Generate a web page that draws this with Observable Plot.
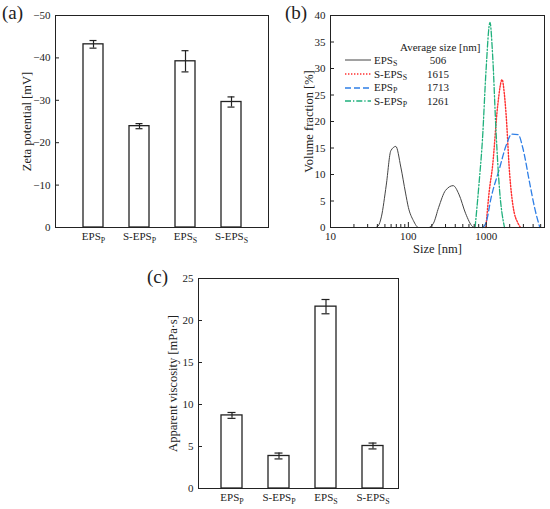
<!DOCTYPE html>
<html><head><meta charset="utf-8">
<script src="https://cdn.jsdelivr.net/npm/d3@7"></script>
<script src="https://cdn.jsdelivr.net/npm/@observablehq/plot@0.6"></script>
<style>
body{margin:0;background:#fff;}
#fig{position:relative;width:550px;height:509px;font-family:"Liberation Serif","Times New Roman",serif;color:#222;overflow:hidden;}
#fig .panel{position:absolute;}
#fig svg text{font-family:"Liberation Serif","Times New Roman",serif !important;}
.plab{position:absolute;font-size:19px;line-height:1;}
.leg{position:absolute;font-size:11px;line-height:1;white-space:nowrap;}
.leg sub{font-size:0.72em;vertical-align:-0.3em;line-height:0;}
</style></head><body><div id="fig"></div>
<script>
// ---------- data ----------
const categories = ["EPS_P", "S-EPS_P", "EPS_S", "S-EPS_S"];
const zetaMagnitude = [43.2, 23.9, 39.2, 29.6];
const zetaError = [0.9, 0.6, 2.5, 1.2];
const viscosity = [8.7, 3.87, 21.65, 5.06];
const viscosityError = [0.35, 0.35, 0.85, 0.35];
const zetaTicks = [0, 10, 20, 30, 40, 50];
const viscosityTicks = [0, 5, 10, 15, 20, 25];
const fractionTicks = [0, 5, 10, 15, 20, 25, 30, 35, 40];
const sizeMajorTicks = [10, 100, 1000];
const sizeMinorTicks = [20, 30, 40, 50, 60, 70, 80, 90, 200, 300, 400, 500, 600, 700, 800, 900, 2000, 3000, 4000, 5000];

const seriesNames = ["EPS_S", "S-EPS_S", "EPS_P", "S-EPS_P"];
const averageSizes = [506, 1615, 1713, 1261];
const epsSSize  = [38, 41, 45, 52, 59.6, 69, 80, 92, 100, 116, 135, 165, 182, 210, 245, 300, 376, 445, 545, 664, 700];
const epsSValue = [0, 0.3, 2, 8, 14.5, 15.3, 11.4, 6.5, 3.8, 1.3, 0, 0, 0, 0.8, 3.8, 7, 7.9, 6.3, 2.6, 0.2, 0];
const sEpsSSize  = [991, 1090, 1208, 1403, 1600, 1700, 1803, 1991, 2200, 2580, 2767];
const sEpsSValue = [0, 6.7, 11.7, 23, 27.9, 25.5, 21.1, 10.4, 4.2, 0.7, 0];
const epsPSize  = [900, 1000, 1150, 1477, 1803, 2120, 2580, 2960, 3600, 4200, 4875];
const epsPValue = [0, 1, 5.5, 11.1, 15.5, 17.6, 17.5, 14.9, 8.5, 3.6, 0];
const sEpsPSize  = [719, 805, 895, 991, 1117, 1208, 1337, 1477, 1716];
const sEpsPValue = [0, 8, 16.7, 29.3, 38.7, 32.5, 18, 7.4, 0];

const axisTitles = ["Zeta potential [mV]", "Apparent viscosity [mPa\u00b7s]", "Volume fraction [%]", "Size [nm]"];

// ---------- styles ----------
const ink = "#222";
const seriesStyle = {
  "EPS_S":   {stroke: "#444", strokeWidth: 1, strokeDasharray: null},
  "S-EPS_S": {stroke: "#ff3030", strokeWidth: 1.4, strokeDasharray: "1.4,1.6"},
  "EPS_P":   {stroke: "#2f7fe6", strokeWidth: 1.3, strokeDasharray: "6,3"},
  "S-EPS_P": {stroke: "#1fb07c", strokeWidth: 1.3, strokeDasharray: "6,2,1.3,2"}
};
const seriesData = {
  "EPS_S": [epsSSize, epsSValue],
  "S-EPS_S": [sEpsSSize, sEpsSValue],
  "EPS_P": [epsPSize, epsPValue],
  "S-EPS_P": [sEpsPSize, sEpsPValue]
};
const fontFamily = '"Liberation Serif","Times New Roman",serif';
const baseStyle = {fontFamily, fontSize: "11px", color: ink, background: "transparent", overflow: "visible"};
const titleSize = 12.5;

const fig = document.getElementById("fig");

function subscriptify(svg) {
  d3.select(svg).selectAll("text").each(function () {
    const el = this.querySelector("tspan") || this;
    const t = el.textContent;
    if (!t.includes("_")) return;
    const [base, sub] = t.split("_");
    el.textContent = base;
    const ts = document.createElementNS("http://www.w3.org/2000/svg", "tspan");
    ts.setAttribute("font-size", "0.72em");
    ts.setAttribute("dy", "0.3em");
    ts.textContent = sub;
    el.appendChild(ts);
  });
}

function place(node, left, top) {
  node.classList.add("panel");
  node.style.left = left + "px";
  node.style.top = top + "px";
  fig.appendChild(node);
  subscriptify(node);
}

function yAxes(ticks, fmt, title, titleDx) {
  return [
    Plot.axisY({ticks, tickSize: 4, dx: 4, tickFormat: () => "", label: null, stroke: ink}),
    Plot.axisY({ticks, tickSize: 0, tickPadding: 5, tickFormat: fmt, label: null, fontSize: 11}),
    Plot.text([title], {text: d => d, frameAnchor: "left", textAnchor: "middle", lineAnchor: "middle", rotate: -90, dx: -titleDx, fontSize: titleSize, fill: ink})
  ];
}

function barPanel({values, errors, ticks, fmt, title, titleDx, width, height, margins, xscale, max}) {
  const rows = categories.map((c, i) => ({c, v: values[i], e: errors[i]}));
  return Plot.plot({
    width, height, ...margins,
    style: baseStyle,
    x: {domain: categories, ...xscale},
    y: {domain: [0, max]},
    marks: [
      Plot.barY(rows, {x: "c", y: "v", fill: "white", stroke: ink, strokeWidth: 1.3}),
      Plot.ruleX(rows, {x: "c", y1: d => d.v - d.e, y2: d => d.v + d.e, stroke: ink, strokeWidth: 1.2}),
      Plot.tickY(rows, {x: "c", y: d => d.v + d.e, insetLeft: 6.5, insetRight: 6.5, stroke: ink, strokeWidth: 1.2}),
      Plot.tickY(rows, {x: "c", y: d => d.v - d.e, insetLeft: 6.5, insetRight: 6.5, stroke: ink, strokeWidth: 1.2}),
      Plot.axisX({tickSize: 0, tickPadding: 5, label: null, fontSize: 11}),
      ...yAxes(ticks, fmt, title, titleDx),
      Plot.frame({stroke: ink, strokeWidth: 1})
    ]
  });
}

// (a) zeta potential
const pa = barPanel({
  values: zetaMagnitude, errors: zetaError, ticks: zetaTicks, max: 50,
  fmt: d => d === 0 ? "0" : "\u2212" + d,
  title: axisTitles[0], titleDx: 29,
  width: 275, height: 255,
  margins: {marginLeft: 55, marginRight: 7, marginTop: 15, marginBottom: 28},
  xscale: {paddingInner: 0.57, paddingOuter: 0.57}
});
place(pa, 0, 0);

// (c) apparent viscosity
const pc = barPanel({
  values: viscosity, errors: viscosityError, ticks: viscosityTicks, max: 25,
  fmt: d => String(d),
  title: axisTitles[1], titleDx: 26,
  width: 300, height: 254,
  margins: {marginLeft: 68, marginRight: 32, marginTop: 23, marginBottom: 21},
  xscale: {paddingInner: 0.56, paddingOuter: 0.405, align: 0.59}
});
place(pc, 130, 255);

// (b) size distribution
const lineRows = seriesNames.flatMap(name => {
  const [s, v] = seriesData[name];
  return s.map((size, i) => ({series: name, size, value: v[i]}));
});
const pb = Plot.plot({
  width: 275, height: 255,
  marginLeft: 55, marginRight: 6, marginTop: 15, marginBottom: 28,
  style: baseStyle,
  x: {type: "log", domain: [10, 5600]},
  y: {domain: [0, 40]},
  marks: [
    ...seriesNames.map(name => Plot.line(lineRows.filter(d => d.series === name), {
      x: "size", y: "value", curve: "monotone-x", ...seriesStyle[name]
    })),
    Plot.axisX({ticks: sizeMinorTicks, tickSize: 3, dy: -3, tickFormat: () => "", label: null, stroke: ink}),
    Plot.axisX({ticks: sizeMajorTicks, tickSize: 5, dy: -5, tickFormat: () => "", label: null, stroke: ink}),
    Plot.axisX({ticks: sizeMajorTicks, tickSize: 0, tickPadding: 5, tickFormat: d => String(d), label: null, fontSize: 11}),
    Plot.text([axisTitles[3]], {text: d => d, frameAnchor: "bottom", textAnchor: "middle", lineAnchor: "middle", dy: 21, fontSize: titleSize, fill: ink}),
    ...yAxes(fractionTicks, d => String(d), axisTitles[2], 22),
    Plot.frame({stroke: ink, strokeWidth: 1})
  ]
});
place(pb, 275, 0);

// panel labels
[["(a)", 2, 3], ["(b)", 285, 3], ["(c)", 147, 267]].forEach(([t, x, y]) => {
  const d = document.createElement("div");
  d.className = "plab"; d.textContent = t;
  d.style.left = x + "px"; d.style.top = y + "px";
  fig.appendChild(d);
});

// legend for (b)
function sub(name) {
  const [b, s] = name.split("_");
  return b + "<sub>" + s + "</sub>";
}
const head = document.createElement("div");
head.className = "leg"; head.textContent = "Average size [nm]";
head.style.left = "400px"; head.style.top = "42px";
fig.appendChild(head);
const rowTops = [54.5, 68.5, 82, 95.5];
seriesNames.forEach((name, i) => {
  const st = seriesStyle[name];
  const sw = d3.create("svg").attr("width", 26).attr("height", 6)
    .style("position", "absolute").style("left", "345px").style("top", (rowTops[i] + 2.5) + "px");
  sw.append("line").attr("x1", 0).attr("x2", 26).attr("y1", 3).attr("y2", 3)
    .attr("stroke", st.stroke).attr("stroke-width", st.strokeWidth)
    .attr("stroke-dasharray", st.strokeDasharray);
  fig.appendChild(sw.node());
  const lab = document.createElement("div");
  lab.className = "leg"; lab.innerHTML = sub(name);
  lab.style.left = "374px"; lab.style.top = rowTops[i] + "px";
  fig.appendChild(lab);
  const num = document.createElement("div");
  num.className = "leg"; num.textContent = averageSizes[i];
  num.style.left = "418px"; num.style.width = "40px"; num.style.textAlign = "center";
  num.style.top = rowTops[i] + "px";
  fig.appendChild(num);
});
</script></body></html>
